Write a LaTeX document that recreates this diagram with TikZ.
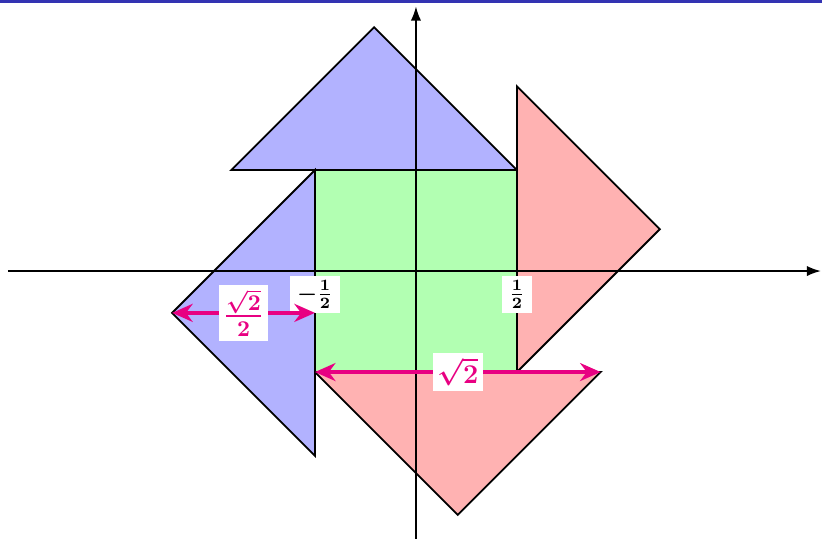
\documentclass[tikz,border=0pt]{standalone}
\usepackage{amsmath}
\usetikzlibrary{arrows.meta,calc}
\definecolor{barblue}{RGB}{51,51,178}
\definecolor{hot}{RGB}{232,0,130}

\begin{document}
\begin{tikzpicture}[
  x=3.146cm,y=3.146cm,
  piece/.style={draw=black,thick,line join=miter,fill=#1},
  axis/.style={-{Latex[length=2.2mm,width=1.6mm]},thick},
  dim/.style={{Stealth[length=3.2mm,width=2.8mm]}-{Stealth[length=3.2mm,width=2.8mm]},line width=1.5pt,hot},
  dimlbl/.style={fill=white,text=hot,inner sep=2pt,font=\large},
  tick/.style={fill=white,inner xsep=3pt,inner ysep=2pt,below=2pt}
]
\useasboundingbox (-2.059,-1.3218) rectangle (2.010,1.3416);
\fill[barblue] (-2.059,1.327) rectangle (2.010,1.3416);

% ---------- pieces
\def\h{0.70711}
\filldraw[piece=green!30] (-0.5,-0.5) rectangle (0.5,0.5);
\filldraw[piece=blue!30] (0.5,0.5) -- ({0.5-2*\h},0.5) -- ({0.5-\h},{0.5+\h}) -- cycle;
\filldraw[piece=red!30] (0.5,-0.5) -- (0.5,{-0.5+2*\h}) -- ({0.5+\h},{-0.5+\h}) -- cycle;
\filldraw[piece=red!30] (-0.5,-0.5) -- ({-0.5+2*\h},-0.5) -- ({-0.5+\h},{-0.5-\h}) -- cycle;
\filldraw[piece=blue!30] (-0.5,0.5) -- (-0.5,{0.5-2*\h}) -- ({-0.5-\h},{0.5-\h}) -- cycle;

% ---------- axes
\draw[axis] (-2.02,0) -- (2.005,0);
\draw[axis] (0,-1.33) -- (0,1.31);
\coordinate (m) at (-0.5,0);
\coordinate (p) at (0.5,0);
\node[tick] (mlbl) at (m) {$\boldsymbol{-\frac{1}{2}}$};
\node[tick] (plbl) at (p) {$\boldsymbol{\frac{1}{2}}$};

% ---------- lengths
\coordinate (la) at ({-0.5-\h},{0.5-\h});
\coordinate (lb) at (-0.5,{0.5-\h});
\coordinate (ba) at (-0.5,-0.5);
\coordinate (bb) at ({-0.5+2*\h},-0.5);
\draw[dim] (la) -- (lb) node[dimlbl,midway,font=\Large] (half) {$\boldsymbol{\frac{\sqrt{2}}{2}}$};
\draw[dim] (ba) -- (bb) node[dimlbl,midway] (full) {$\boldsymbol{\sqrt{2}}$};
\end{tikzpicture}
\end{document}
